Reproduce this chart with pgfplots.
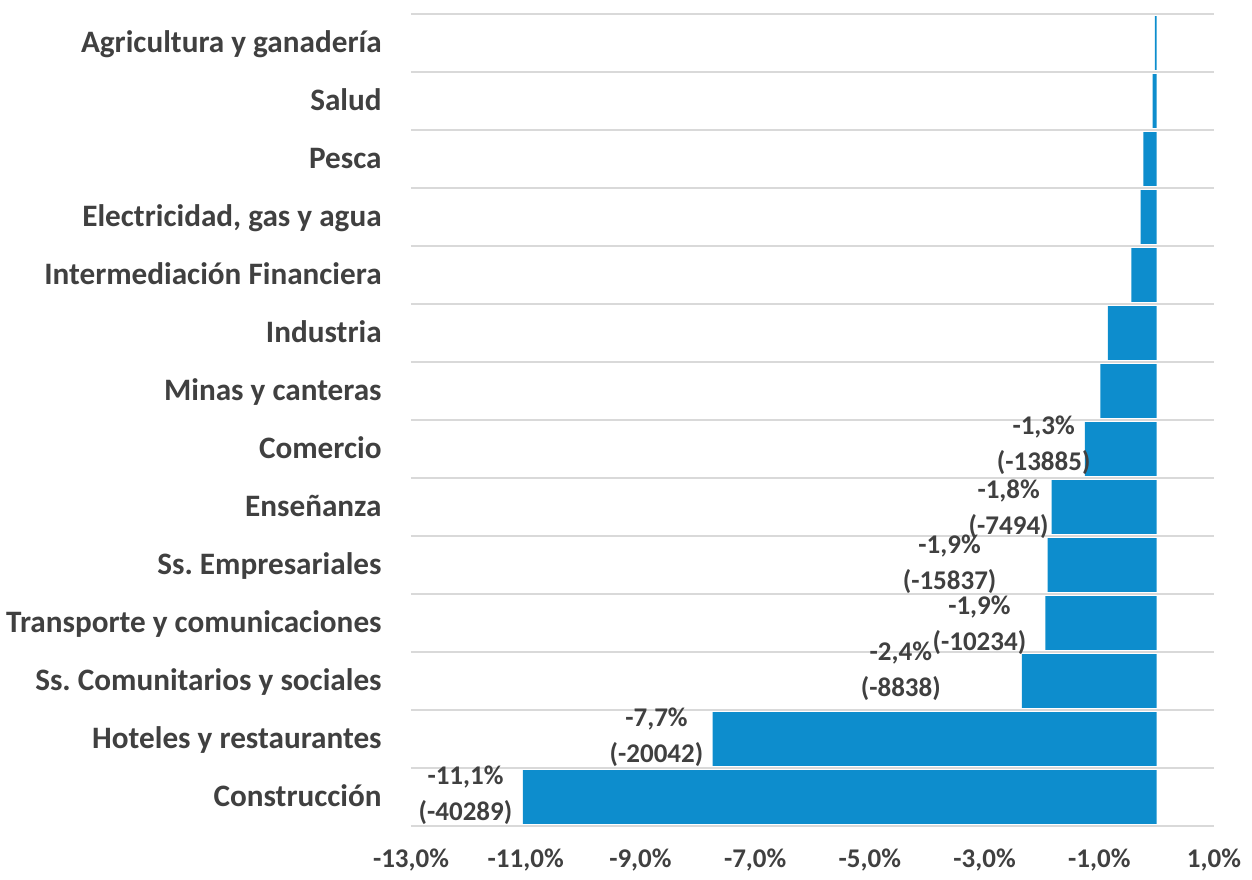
\documentclass[border=0pt]{standalone}
\usepackage{pgfplots}
\pgfplotsset{compat=1.18}
\usepackage{fontspec}
\setmainfont{Carlito}
\frenchspacing
\definecolor{barblue}{RGB}{13,141,205}
\definecolor{txt}{RGB}{64,64,64}
\definecolor{gridc}{RGB}{217,217,217}
\begin{document}
\begin{tikzpicture}
\begin{axis}[
  at={(0,0)}, anchor=south west,
  scale only axis,
  width=401.5pt, height=406pt,
  xmin=-13, xmax=1,
  ymin=-0.5, ymax=13.5,
  xbar, bar width=0.93, bar shift=0pt,
  xtick={-13,-11,-9,-7,-5,-3,-1,1},
  xticklabels={{-13,0\%},{-11,0\%},{-9,0\%},{-7,0\%},{-5,0\%},{-3,0\%},{-1,0\%},{1,0\%}},
  ytick={0,...,13},
  yticklabels={Construcción,Hoteles y restaurantes,Ss.\ Comunitarios y sociales,Transporte y comunicaciones,Ss.\ Empresariales,Enseñanza,Comercio,Minas y canteras,Industria,Intermediación Financiera,{Electricidad, gas y agua},Pesca,Salud,Agricultura y ganadería},
  minor ytick={-0.5,0.5,...,13.5},
  yminorgrids=true, ymajorgrids=false, xmajorgrids=false,
  minor grid style={draw=gridc, line width=1pt},
  axis line style={draw=none},
  tick style={draw=none},
  major tick length=0pt, minor tick length=0pt,
  xticklabel style={font=\fontsize{13.5}{16}\selectfont\bfseries, text=txt, anchor=base, yshift=-20.5pt, inner sep=0pt},
  yticklabel style={font=\fontsize{15.6}{18}\selectfont\bfseries, text=txt, anchor=east, xshift=-14.5pt, yshift=-1.5pt, inner sep=0pt, text height=0.644em, text depth=0pt},
  clip=false,
]
\addplot[fill=barblue, draw=none] coordinates {
(-11.05,0) (-7.74,1) (-2.35,2) (-1.94,3) (-1.90,4) (-1.83,5) (-1.25,6)
(-0.98,7) (-0.85,8) (-0.44,9) (-0.28,10) (-0.23,11) (-0.07,12) (-0.03,13)
};
\tikzset{vl/.style={font=\fontsize{13.5}{18}\selectfont\bfseries, text=txt, align=center, inner sep=0pt, anchor=center}}
\node[vl] at (axis cs:-1.97,6.07) {-1,3\%\\(-13885)};
\node[vl] at (axis cs:-2.58,4.97) {-1,8\%\\(-7494)};
\node[vl] at (axis cs:-3.61,4.01) {-1,9\%\\(-15837)};
\node[vl] at (axis cs:-3.09,2.96) {-1,9\%\\(-10234)};
\node[vl] at (axis cs:-4.46,2.17) {-2,4\%\\(-8838)};
\node[vl] at (axis cs:-8.72,1.03) {-7,7\%\\(-20042)};
\node[vl] at (axis cs:-12.05,0.03) {-11,1\%\\(-40289)};
\end{axis}
\pgfresetboundingbox
\path (-205.5pt,-26.5pt) rectangle (420.5pt,413pt);
\end{tikzpicture}
\end{document}
